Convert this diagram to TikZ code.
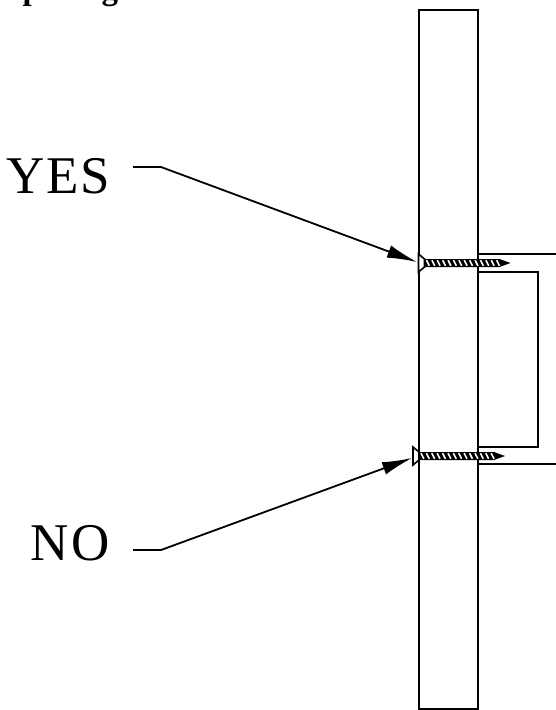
\documentclass[tikz,border=0pt]{standalone}
\usepackage{fontspec}
\setmainfont{Liberation Serif}
\usetikzlibrary{arrows.meta}
\usetikzlibrary{positioning}
\tikzset{
  outline/.style={line width=2pt},
  thinline/.style={line width=1.8pt},
  pointer/.style={line width=1.8pt, -{Latex[length=30pt,width=13pt]}},
  answer/.style={font=\fontsize{53}{53}\selectfont, anchor=base east, inner sep=0pt},
}
\newcommand{\screw}[2]{%
  % head, shank and slanted thread of one screw
  \begin{scope}[shift={(#1,#2)}]
    \draw[line width=1.6pt, fill=white] (-6,-9) -- (0,-4) -- (0,4) -- (-6,9) -- cycle;
    \fill (0,-4) -- (75,-4) -- (86,0) -- (75,4) -- (0,4) -- cycle;
    \foreach \i in {0,...,13}
      \draw[white, line width=1.6pt] ({2+5.4*\i},-2.8) -- ({4.8+5.4*\i},2.8);
  \end{scope}}
\begin{document}
\begin{tikzpicture}[x=1pt,y=-1pt]
  \useasboundingbox (0,0) rectangle (556,710);
  \clip (0,0) rectangle (556,710);

  \node[font=\fontsize{33}{33}\selectfont\bfseries, anchor=base west, inner sep=0pt] (caption) at (6,-1) {opening doors.};

  % plank
  \node[draw, outline, minimum width=59pt, minimum height=699pt, inner sep=0pt] (plank) at (448.5,359) {};

  % cabinet
  \coordinate (c1) at (plank.east |- 0,254);
  \coordinate (c2) at (556,254);
  \coordinate (c3) at (plank.east |- 0,272);
  \coordinate (c4) at (538,272);
  \coordinate (c5) at (538,447);
  \coordinate (c6) at (plank.east |- 0,447);
  \coordinate (c7) at (plank.east |- 0,464);
  \coordinate (c8) at (556,464);
  \draw[thinline] (c1) -- (c2);
  \draw[thinline] (c3) -- (c4) -- (c5) -- (c6);
  \draw[thinline] (c7) -- (c8);

  % screws
  \screw{424.5}{263}
  \screw{419}{456}

  % labels
  \node[answer] (yes) at (110,193) {Y\kern1.5pt E\kern1.5pt S};
  \node[answer] (no) at (110,560) {N\kern2.5pt O};

  \coordinate (yesbend) at (161,167);
  \coordinate (nobend) at (161,550);
  \coordinate (yesstart) at (133,167);
  \coordinate (nostart) at (133,550);
  \coordinate (yestip) at (417,262);
  \coordinate (notip) at (412,458);
  \draw[pointer] (yesstart) -- (yesbend) -- (yestip);
  \draw[pointer] (nostart) -- (nobend) -- (notip);
\end{tikzpicture}
\end{document}
